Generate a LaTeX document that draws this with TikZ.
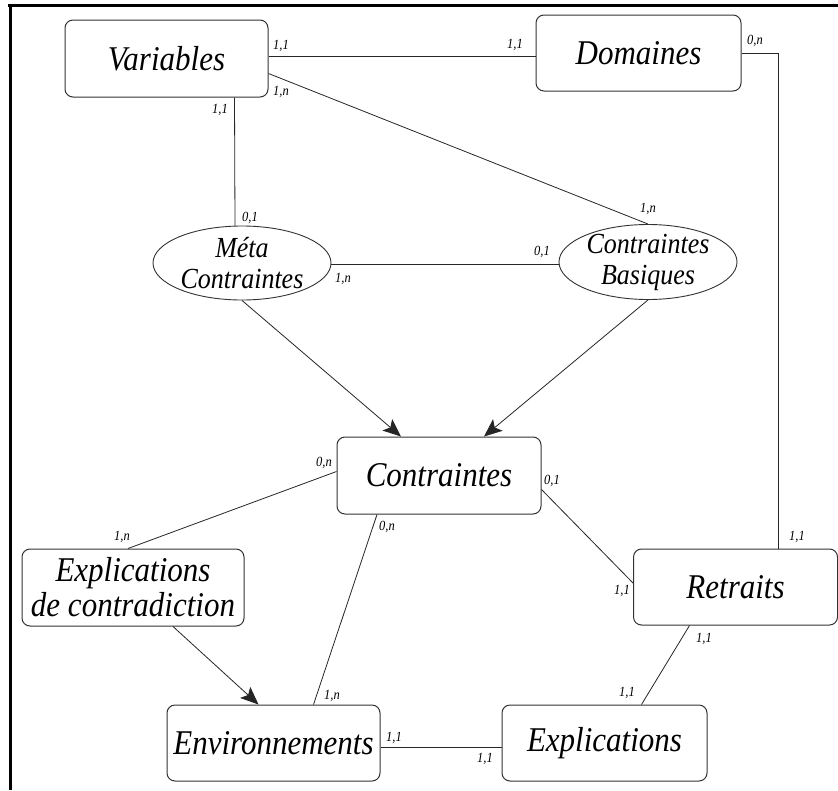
\documentclass[tikz,border=0pt]{standalone}
\usepackage{fontspec}
\usepackage{graphicx}
\setmainfont{Liberation Serif}
\usetikzlibrary{arrows.meta,shapes.geometric}
\newcommand\tallt[1]{\scalebox{1}[1.12]{#1}}
\begin{document}
\begin{tikzpicture}[x=1pt,y=-1pt,
  ent/.style={draw=black!80,line width=1pt,rounded corners=8pt,inner sep=0pt,align=center,
    font=\fontsize{31}{35}\selectfont\itshape},
  rel/.style={draw=black!80,line width=0.9pt,ellipse,inner sep=0pt},
  reltext/.style={align=center,font=\fontsize{26}{31}\selectfont\itshape},
  card/.style={inner sep=0pt,font=\fontsize{12.5}{12.5}\selectfont\itshape},
  link/.style={draw=black!85,line width=0.8pt},
  arr/.style={link,-{Stealth[length=18pt,width=15pt,inset=4pt]}}]
\useasboundingbox (0,0) rectangle (838,790);
\fill[white] (0,0) rectangle (838,790);
\draw[line width=3pt] (8,5) -- (838,5);
\draw[line width=3pt] (10,4) -- (10,790);
% entities
\node[ent,minimum width=203pt,minimum height=77pt] (var) at (166.5,58.5) {\tallt{Variables}};
\node[ent,minimum width=205pt,minimum height=76pt] (dom) at (638.5,53) {\tallt{Domaines}};
\node[rel,minimum width=178pt,minimum height=74pt,label={[reltext]center:\tallt{Méta}\\\tallt{Contraintes}}] (meta) at (242,263) {};
\node[rel,minimum width=178pt,minimum height=75pt,label={[reltext]center:\tallt{Contraintes}\\\tallt{Basiques}}] (cb) at (648,262) {};
\node[ent,minimum width=204pt,minimum height=77pt] (con) at (439,475.5) {\tallt{Contraintes}};
\node[ent,minimum width=222pt,minimum height=77pt] (edc) at (133,587.5) {\tallt{Explications}\\\tallt{de contradiction}};
\node[ent,minimum width=204pt,minimum height=76pt] (ret) at (735.5,587) {\tallt{Retraits}};
\node[ent,minimum width=213pt,minimum height=76pt] (env) at (273.5,743) {\tallt{Environnements}};
\node[ent,minimum width=205pt,minimum height=76pt] (expl) at (604.5,743) {\tallt{Explications}};
% connectors
\draw[link] ([yshift=2pt]var.east) -- ([yshift=2pt]var.east -| dom.west);
\draw[link] ([yshift=-15pt]var.east) -- (cb.north);
\draw[link] ([xshift=68pt]var.south) -- ([xshift=-7pt]meta.north);
\draw[link] ([yshift=-1pt]meta.east) -- ([yshift=-1pt]meta.east -| cb.west);
\draw[arr] (meta.south) -- ([xshift=-38pt]con.north);
\draw[arr] (cb.south) -- ([xshift=45pt]con.north);
\draw[link] (dom.east) -| ([xshift=43pt]ret.north);
\draw[link] ([yshift=4pt]con.west) -- ([xshift=-5pt]edc.north);
\draw[link] ([xshift=-62pt]con.south) -- ([xshift=40pt]env.north);
\draw[arr] ([xshift=40pt]edc.south) -- ([xshift=-15pt]env.north);
\draw[link] ([yshift=-14pt]con.east) -- ([yshift=4pt]ret.west);
\draw[link] ([xshift=-46pt]ret.south) -- ([xshift=37pt]expl.north);
\draw[link] ([yshift=-4pt]env.east) -- ([yshift=-4pt]env.east -| expl.west);
% cardinalities
\node[card] (c1) at (281,46) {\tallt{1,1}};
\node[card] (c2) at (515,45) {\tallt{1,1}};
\node[card] (c3) at (281,92) {\tallt{1,n}};
\node[card] (c4) at (220,110) {\tallt{1,1}};
\node[card] (c5) at (250,218) {\tallt{0,1}};
\node[card] (c6) at (343,279) {\tallt{1,n}};
\node[card] (c7) at (542,252) {\tallt{0,1}};
\node[card] (c8) at (648,209) {\tallt{1,n}};
\node[card] (c9) at (755,41) {\tallt{0,n}};
\node[card] (c10) at (797,537) {\tallt{1,1}};
\node[card] (c11) at (324,463) {\tallt{0,n}};
\node[card] (c12) at (122,537) {\tallt{1,n}};
\node[card] (c13) at (387,527) {\tallt{0,n}};
\node[card] (c14) at (332,696) {\tallt{1,n}};
\node[card] (c15) at (552,481) {\tallt{0,1}};
\node[card] (c16) at (622,591) {\tallt{1,1}};
\node[card] (c17) at (704,639) {\tallt{1,1}};
\node[card] (c18) at (627,693) {\tallt{1,1}};
\node[card] (c19) at (394,738) {\tallt{1,1}};
\node[card] (c20) at (485,759) {\tallt{1,1}};
\end{tikzpicture}
\end{document}
